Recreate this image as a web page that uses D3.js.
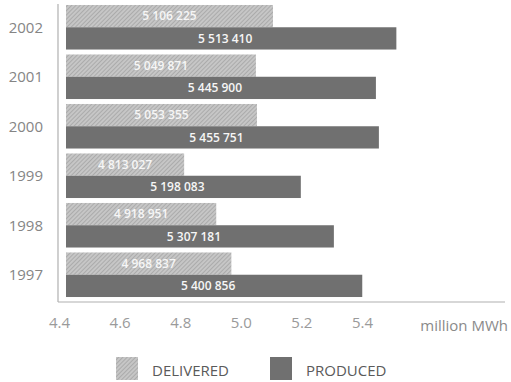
<!DOCTYPE html>
<html>
<head>
<meta charset="utf-8">
<script src="https://cdn.jsdelivr.net/npm/d3@7"></script>
<style>
  html, body { margin: 0; padding: 0; background: #fff; }
  svg { display: block; font-family: "Open Sans", "Noto Sans", sans-serif; }
</style>
</head>
<body>
<svg id="chart" width="511" height="382"></svg>
<script>
// Electricity per year (MWh)
const years = ["2002", "2001", "2000", "1999", "1998", "1997"];
const delivered = [5106225, 5049871, 5053355, 4813027, 4918951, 4968837];
const produced = [5513410, 5445900, 5455751, 5198083, 5307181, 5400856];
const tickValues = [4.4, 4.6, 4.8, 5.0, 5.2, 5.4];
const seriesNames = ["DELIVERED", "PRODUCED"];
const unitLabel = "million MWh";

const svg = d3.select("#chart");

// hatched fill for delivered bars
const defs = svg.append("defs");
const pat = defs.append("pattern")
  .attr("id", "hatch")
  .attr("patternUnits", "userSpaceOnUse")
  .attr("width", 3).attr("height", 3)
  .attr("patternTransform", "rotate(45)");
pat.append("rect").attr("width", 3).attr("height", 3).attr("fill", "#c6c6c6");
pat.append("line").attr("x1", 0).attr("y1", 0).attr("x2", 0).attr("y2", 3)
  .attr("stroke", "#999").attr("stroke-width", 1.2);

const x = d3.scaleLinear().domain([4.4, 5.4]).range([59, 362]);
const y = d3.scaleBand().domain(years).range([4, 298]).paddingInner(0.1).paddingOuter(0.02);
const sub = d3.scaleBand().domain(seriesNames).range([0, y.bandwidth()]).padding(0);

const barStart = x(4.4) + 7;
const produceColor = "#707070";
const fmt = v => d3.format(",")(v).replace(/,/g, " ");

const rows = years.map((yr, i) => ({ yr, del: delivered[i], prod: produced[i] }));

const g = svg.append("g");

rows.forEach(r => {
  const y0 = y(r.yr);
  // delivered
  const dEnd = x(r.del / 1e6);
  g.append("rect")
    .attr("x", barStart).attr("y", y0 + sub("DELIVERED"))
    .attr("width", dEnd - barStart).attr("height", sub.bandwidth())
    .attr("fill", "url(#hatch)");
  g.append("text")
    .attr("x", (barStart + dEnd) / 2).attr("y", y0 + sub("DELIVERED") + sub.bandwidth() / 2)
    .attr("dy", "0.36em").attr("text-anchor", "middle")
    .attr("fill", "#f6f6f6").attr("font-size", 12).attr("font-weight", 600)
    .text(fmt(r.del));
  // produced
  const pEnd = x(r.prod / 1e6);
  g.append("rect")
    .attr("x", barStart).attr("y", y0 + sub("PRODUCED"))
    .attr("width", pEnd - barStart).attr("height", sub.bandwidth())
    .attr("fill", produceColor);
  g.append("text")
    .attr("x", (barStart + pEnd) / 2 - 6).attr("y", y0 + sub("PRODUCED") + sub.bandwidth() / 2)
    .attr("dy", "0.36em").attr("text-anchor", "middle")
    .attr("fill", "#f6f6f6").attr("font-size", 12).attr("font-weight", 600)
    .text(fmt(r.prod));
});

// year labels
svg.append("g").selectAll("text").data(years).join("text")
  .attr("x", 43).attr("y", d => y(d) + y.bandwidth() / 2)
  .attr("dy", "0.36em").attr("text-anchor", "end")
  .attr("fill", "#858585").attr("font-size", 15)
  .text(d => d);

// frame lines
svg.append("line").attr("x1", 58).attr("x2", 58).attr("y1", 4).attr("y2", 302)
  .attr("stroke", "#b0b0b0").attr("stroke-width", 1.2);
svg.append("line").attr("x1", 58).attr("x2", 505).attr("y1", 302).attr("y2", 302)
  .attr("stroke", "#b0b0b0").attr("stroke-width", 1.2);

// x axis
const xAxis = d3.axisBottom(x).tickValues(tickValues).tickFormat(d3.format(".1f")).tickSize(0).tickPadding(0);
const ax = svg.append("g").attr("transform", "translate(0,317)").call(xAxis);
ax.select(".domain").remove();
ax.selectAll("text").attr("fill", "#9a9a9a").attr("font-size", 15).attr("font-family", "\"Open Sans\", sans-serif");

svg.append("text").attr("x", 508).attr("y", 331).attr("text-anchor", "end")
  .attr("fill", "#8a8a8a").attr("font-size", 15).text(unitLabel);

// legend
const legend = [
  { name: seriesNames[0], fill: "url(#hatch)", x: 116, tx: 152 },
  { name: seriesNames[1], fill: produceColor, x: 270, tx: 306 }
];
const lg = svg.append("g").selectAll("g").data(legend).join("g");
lg.append("rect").attr("x", d => d.x).attr("y", 357).attr("width", 22).attr("height", 23).attr("fill", d => d.fill);
lg.append("text").attr("x", d => d.tx).attr("y", 376)
  .attr("fill", "#5a5a5a").attr("font-size", 15).text(d => d.name);
</script>
</body>
</html>
